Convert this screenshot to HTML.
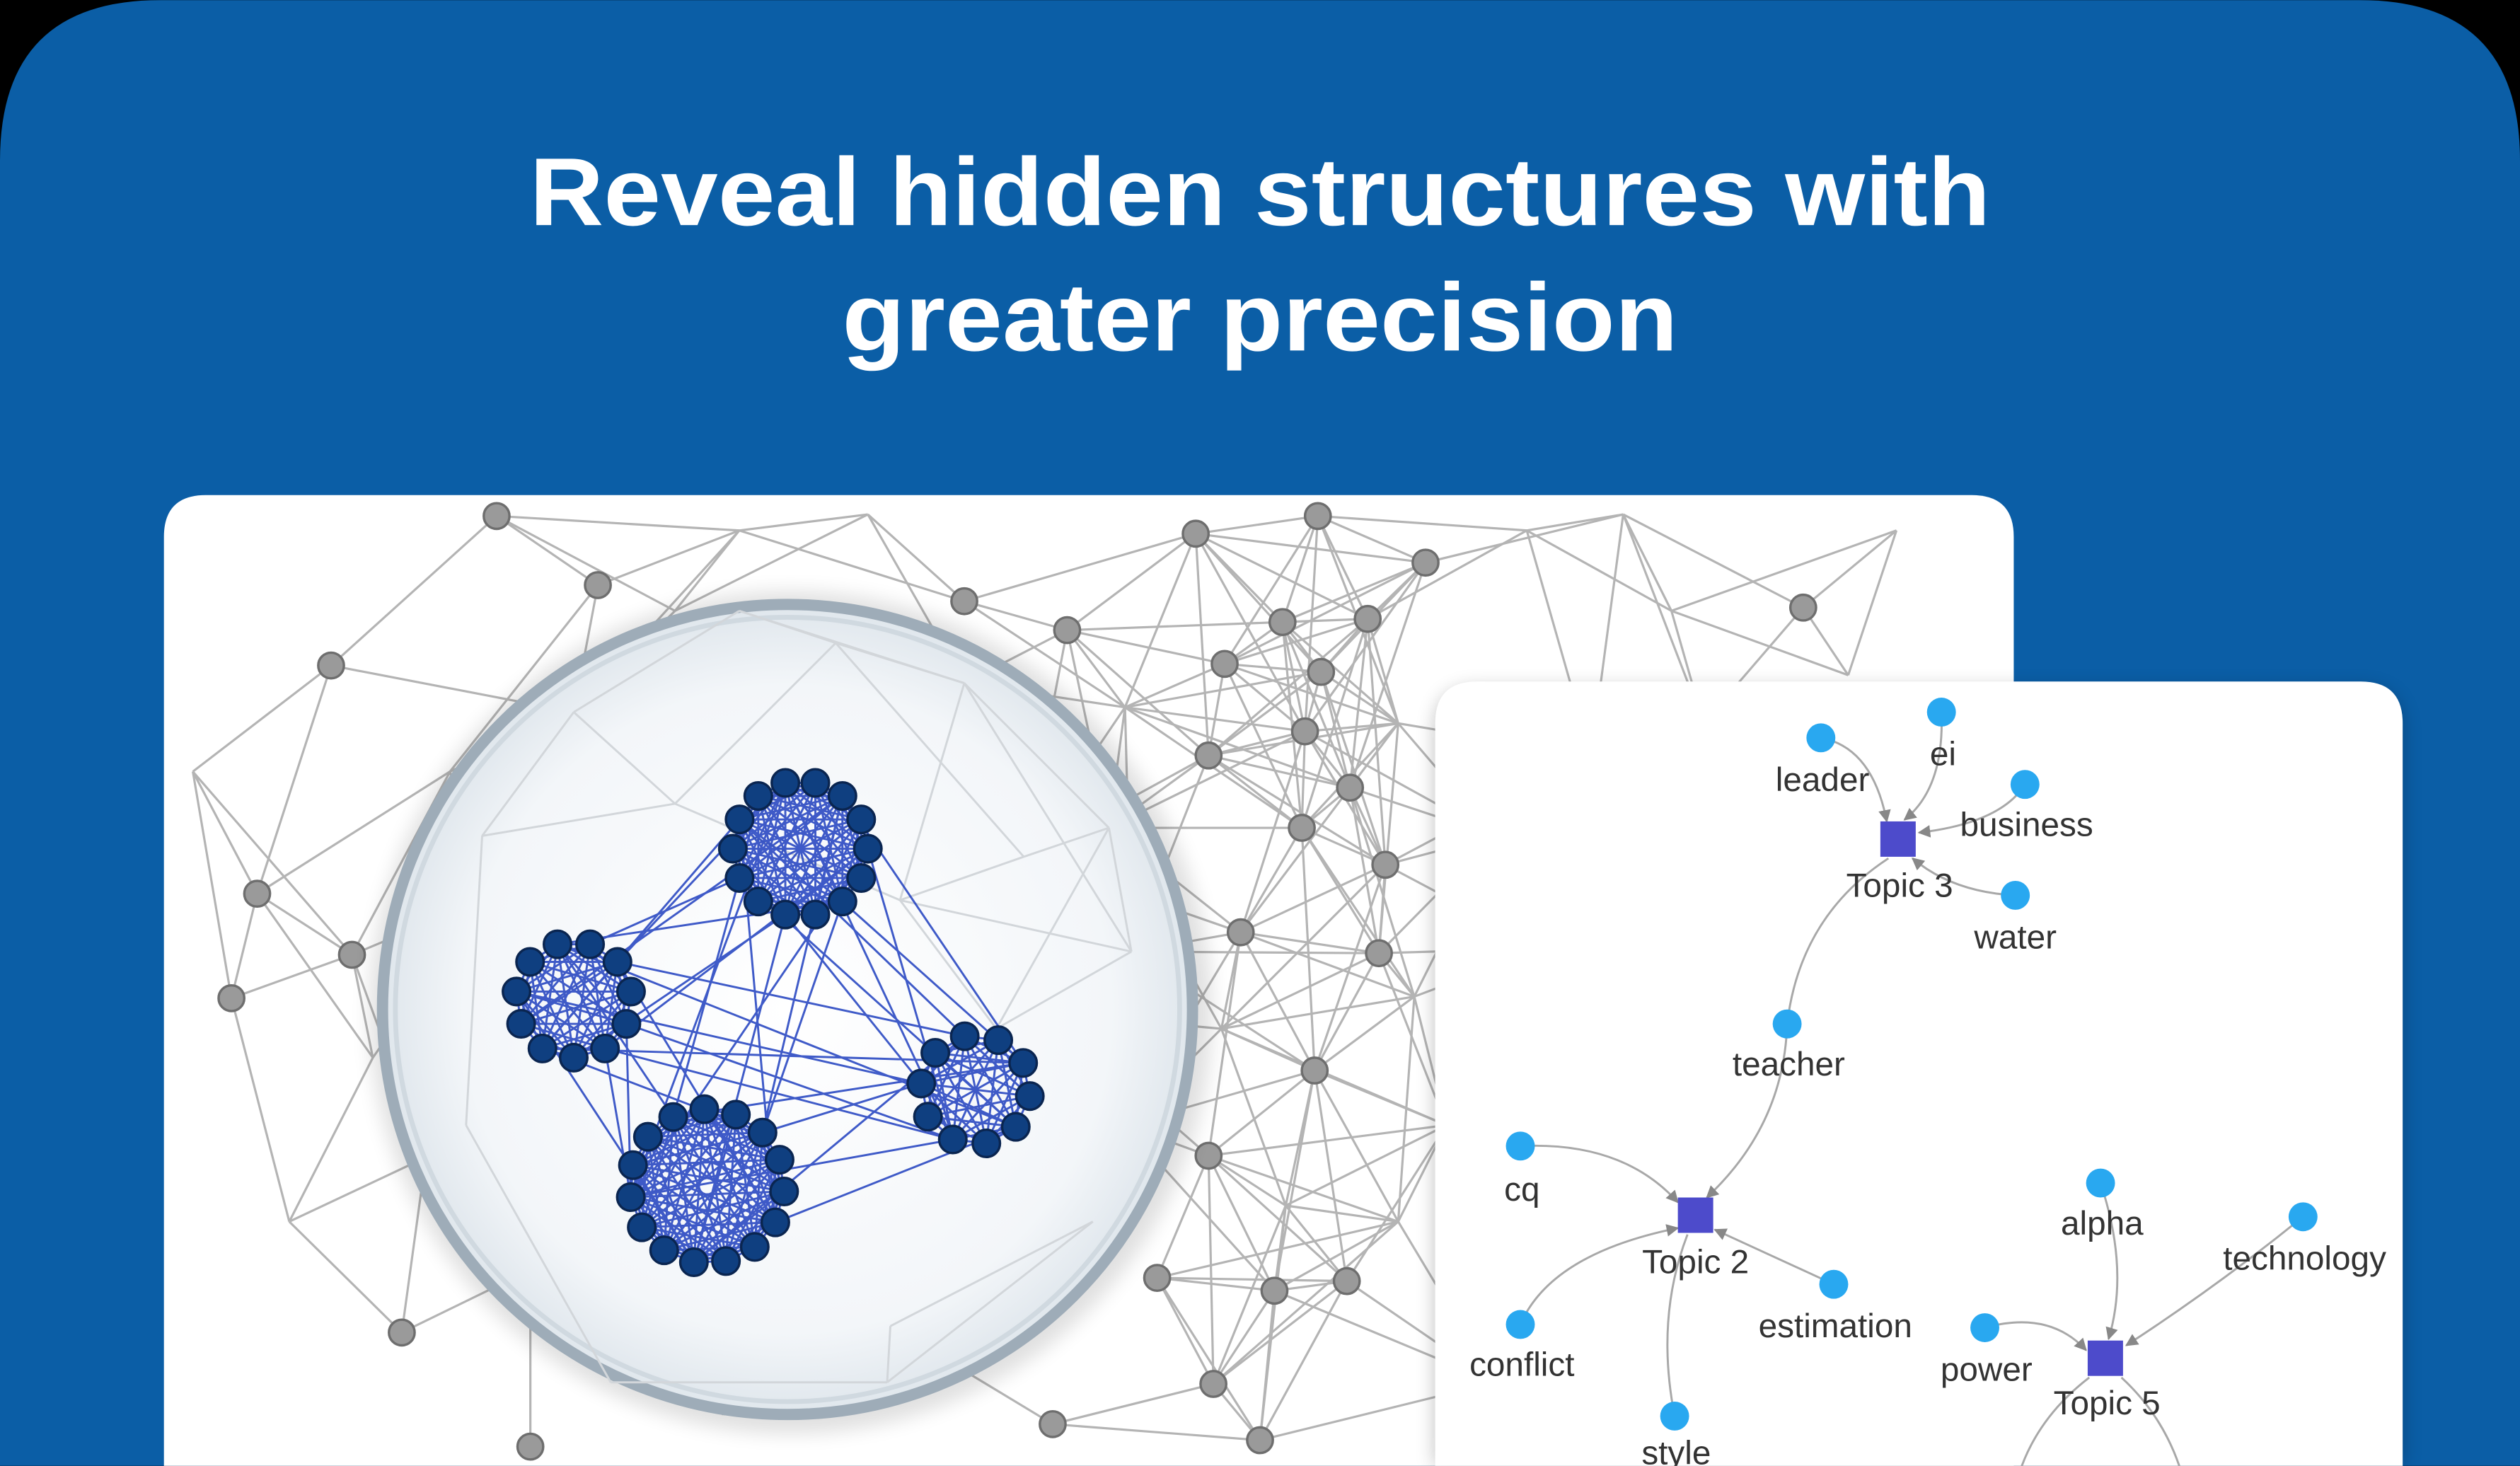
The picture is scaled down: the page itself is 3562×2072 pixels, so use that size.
<!DOCTYPE html>
<html><head><meta charset="utf-8">
<style>
html,body{margin:0;padding:0;background:#000;width:3562px;height:2072px;overflow:hidden}
svg{display:block}
text{font-family:"Liberation Sans","DejaVu Sans",sans-serif}
</style></head>
<body>
<svg id="s" width="3562" height="2072" viewBox="0 0 1568 912" xmlns="http://www.w3.org/2000/svg" overflow="hidden">
<defs>
<radialGradient id="lens" cx="50%" cy="50%" r="50%">
<stop offset="0" stop-color="#ffffff"/>
<stop offset="0.8" stop-color="#f3f6f9"/>
<stop offset="1" stop-color="#dfe6ec"/>
</radialGradient>
<clipPath id="lc"><path d="M102,912 V334 Q102,308 128,308 H1227 Q1253,308 1253,334 V912 Z"/></clipPath>
<clipPath id="rc"><path d="M893,912 V450 Q893,424 919,424 H1469 Q1495,424 1495,450 V912 Z"/></clipPath>
<clipPath id="all"><rect x="0" y="0" width="1568" height="912"/></clipPath>
<filter id="sh" x="-10%" y="-10%" width="120%" height="120%"><feGaussianBlur stdDeviation="6"/></filter>
<marker id="ar" viewBox="0 0 10 10" refX="9" refY="5" markerWidth="6" markerHeight="6" orient="auto"><path d="M0,0L10,5L0,10z" fill="#888"/></marker>
</defs>
<g clip-path="url(#all)">
<path d="M0,912 V100 Q0,0 100,0 H1468 Q1568,0 1568,100 V912 Z" fill="#0b5ea6"/>
<text x="784" y="140" fill="#fff" font-size="60" font-weight="bold" text-anchor="middle" textLength="909" lengthAdjust="spacingAndGlyphs">Reveal hidden structures with</text>
<text x="784" y="218" fill="#fff" font-size="60" font-weight="bold" text-anchor="middle" textLength="520" lengthAdjust="spacingAndGlyphs">greater precision</text>

<path d="M102,912 V334 Q102,308 128,308 H1227 Q1253,308 1253,334 V912 Z" fill="#fff"/>
<g clip-path="url(#lc)">
<g id="gray" stroke="#b4b4b4" stroke-width="1.4"></g>
<g id="graynodes"></g>
<circle cx="492" cy="630" r="262" fill="#000" opacity="0.12" filter="url(#sh)"/>
<circle cx="490" cy="628" r="252" fill="url(#lens)" stroke="#9eacb8" stroke-width="7"/>
<circle cx="490" cy="628" r="244" fill="none" stroke="#d0d9e0" stroke-width="3"/>
<g id="inner" stroke="#d2d6da" stroke-width="1.3"></g>
<g id="blue" stroke="#1f3fbf" stroke-width="1.3" opacity="0.85"></g>
<g id="bluenodes"></g>
</g>

<g clip-path="url(#all)">
<path d="M893,912 V454 Q893,428 919,428 H1469 Q1495,428 1495,454 V912 Z" fill="#000" opacity="0.25" filter="url(#sh)"/>
</g>
<path d="M893,912 V450 Q893,424 919,424 H1469 Q1495,424 1495,450 V912 Z" fill="#fff"/>
<g clip-path="url(#rc)" fill="none" stroke="#a8a8a8" stroke-width="1.3">
<path d="M1133,459 Q1165,465 1174,511" marker-end="url(#ar)"/>
<path d="M1208,443 Q1210,490 1185,510" marker-end="url(#ar)"/>
<path d="M1260,488 Q1245,512 1194,518" marker-end="url(#ar)"/>
<path d="M1254,557 Q1215,555 1190,534" marker-end="url(#ar)"/>
<path d="M1175,534 Q1120,570 1112,637"/>
<path d="M1112,637 Q1110,700 1062,745" marker-end="url(#ar)"/>
<path d="M946,713 Q1010,710 1044,748" marker-end="url(#ar)"/>
<path d="M946,824 Q965,780 1044,764" marker-end="url(#ar)"/>
<path d="M1141,799 Q1100,780 1067,765" marker-end="url(#ar)"/>
<path d="M1042,881 Q1030,820 1050,768"/>
<path d="M1307,736 Q1325,790 1312,833" marker-end="url(#ar)"/>
<path d="M1433,757 Q1380,800 1323,837" marker-end="url(#ar)"/>
<path d="M1235,826 Q1275,815 1298,840" marker-end="url(#ar)"/>
<path d="M1300,857 Q1270,880 1258,912"/>
<path d="M1320,857 Q1345,880 1356,912"/>
</g>
<g fill="#29a8f0">
<circle cx="1133" cy="459" r="9"/><circle cx="1208" cy="443" r="9"/><circle cx="1260" cy="488" r="9"/><circle cx="1254" cy="557" r="9"/>
<circle cx="1112" cy="637" r="9"/><circle cx="946" cy="713" r="9"/><circle cx="946" cy="824" r="9"/><circle cx="1141" cy="799" r="9"/>
<circle cx="1042" cy="881" r="9"/><circle cx="1307" cy="736" r="9"/><circle cx="1433" cy="757" r="9"/><circle cx="1235" cy="826" r="9"/>
</g>
<g fill="#4d4bcb">
<rect x="1170" y="511" width="22" height="22"/><rect x="1044" y="745" width="22" height="22"/><rect x="1299" y="834" width="22" height="22"/>
</g>
<g font-size="21" fill="#333" text-anchor="middle">
<text x="1134" y="492">leader</text><text x="1209" y="476">ei</text><text x="1261" y="520">business</text><text x="1182" y="558">Topic 3</text>
<text x="1254" y="590">water</text><text x="1113" y="669">teacher</text><text x="947" y="747">cq</text><text x="1055" y="792">Topic 2</text>
<text x="947" y="856">conflict</text><text x="1142" y="832">estimation</text><text x="1043" y="911">style</text><text x="1308" y="768">alpha</text>
<text x="1434" y="790">technology</text><text x="1236" y="859">power</text><text x="1311" y="880">Topic 5</text>
</g>
</g>
</svg>
<script>
(function(){
var NS="http://www.w3.org/2000/svg";
function el(t,a,p){var e=document.createElementNS(NS,t);for(var k in a)e.setAttribute(k,a[k]);p.appendChild(e);return e;}
var P=[[309,321],[372,364],[206,414],[160,556],[144,621],[219,594],[250,829],[744,332],[820,321],[887,350],[798,387],[851,385],[1122,378],[664,392],[600,374],[752,470],[812,455],[840,490],[810,515],[862,538],[772,580],[858,593],[818,666],[752,719],[720,795],[793,803],[838,797],[755,861],[784,896],[655,886],[554,825],[637,533],[690,515],[704,592],[600,425],[357,443],[330,900],[762,413],[822,418],[232,658],[180,760],[120,480],[460,330],[540,320],[950,330],[1010,320],[1060,450],[990,470],[930,520],[880,620],[900,700],[870,760],[930,860],[1180,330],[700,700],[650,630],[420,380],[280,480],[300,560],[265,720],[330,790],[450,880],[560,760],[760,640],[800,750],[700,440],[1150,420],[1040,380],[960,590],[870,450]];
var g=document.getElementById('gray'),gi=document.getElementById('inner'),gn=document.getElementById('graynodes');
for(var i=0;i<P.length;i++)for(var j=i+1;j<P.length;j++){var d=Math.hypot(P[i][0]-P[j][0],P[i][1]-P[j][1]);if(d<155&&((i*7+j*3)%5)!=0){el('line',{x1:P[i][0],y1:P[i][1],x2:P[j][0],y2:P[j][1]},g);}}
for(var i=0;i<39;i++){var p=P[i];el('circle',{cx:p[0],cy:p[1],r:8,fill:'#9a9a9a',stroke:'#6e6e6e','stroke-width':1.5},gn);}
var Q=[[357,443],[600,425],[637,533],[690,515],[704,592],[554,825],[552,860],[460,380],[300,520],[290,700],[380,860],[680,760],[520,400],[620,640],[420,500],[560,560]];
for(var i=0;i<Q.length;i++)for(var j=i+1;j<Q.length;j++){var d=Math.hypot(Q[i][0]-Q[j][0],Q[i][1]-Q[j][1]);if(d<200&&(i+j)%3!=0){el('line',{x1:Q[i][0],y1:Q[i][1],x2:Q[j][0],y2:Q[j][1]},gi);}}
var C=[[498,528,42,14],[357,622,36,11],[607,678,34,10],[440,738,48,15]];
var N=[];
C.forEach(function(c,ci){var pts=[];for(var k=0;k<c[3];k++){var a=k/c[3]*Math.PI*2+ci;pts.push([c[0]+c[2]*Math.cos(a),c[1]+c[2]*Math.sin(a)]);}N.push(pts);});
var gb=document.getElementById('blue'),bn=document.getElementById('bluenodes');
N.forEach(function(pts){for(var i=0;i<pts.length;i++)for(var j=i+1;j<pts.length;j++)el('line',{x1:pts[i][0],y1:pts[i][1],x2:pts[j][0],y2:pts[j][1]},gb);});
for(var a=0;a<4;a++)for(var b=a+1;b<4;b++){var A=N[a],B=N[b];for(var k=0;k<A.length;k+=2){var q=B[(k*3)%B.length];el('line',{x1:A[k][0],y1:A[k][1],x2:q[0],y2:q[1]},gb);}}
N.forEach(function(pts){pts.forEach(function(p){el('circle',{cx:p[0],cy:p[1],r:8.5,fill:'#0f3f80',stroke:'#0a2550','stroke-width':1.5},bn);});});
})();
</script>
</body></html>
